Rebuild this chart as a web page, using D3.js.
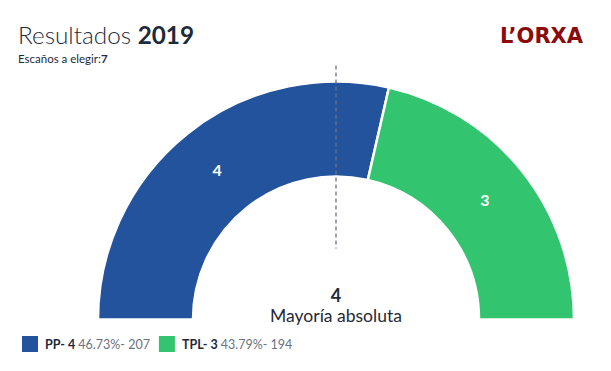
<!DOCTYPE html>
<html><head><meta charset="utf-8">
<script src="https://cdn.jsdelivr.net/npm/d3@7"></script>
<style>body{margin:0;background:#fff;font-family:Lato,sans-serif}</style>
</head><body>
<svg id="c" width="611" height="371"></svg>
<script>
const parties = ["PP", "TPL"];
const seats = [4, 3];
const percents = ["46.73%", "43.79%"];
const votes = [207, 194];
const colors = ["#23539d", "#33c46f"];
const totalSeats = 7;
const majority = 4;
const year = "2019";

const svg = d3.select("#c");
const cx = 336, cy = 319.5, rOuter = 238, rInner = 143;

const pie = d3.pie().sort(null).value(d => d).startAngle(-Math.PI/2).endAngle(Math.PI/2);
const arcs = pie(seats);
const arc = d3.arc().innerRadius(rInner).outerRadius(rOuter);
const g = svg.append("g").attr("transform", `translate(${cx},${cy})`);
g.selectAll("path").data(arcs).join("path")
  .attr("d", arc).attr("fill", (d,i) => colors[i])
  .attr("stroke", "#fff").attr("stroke-width", 2.5);
g.selectAll("text.lbl").data(arcs).join("text")
  .attr("class","lbl")
  .attr("transform", d => `translate(${arc.centroid(d)})`)
  .attr("text-anchor","middle").attr("dy","0.35em")
  .attr("fill","#fff").attr("font-weight","bold").attr("font-size",16)
  .text(d => d.data);

// dashed majority line
g.append("line").attr("x1",0).attr("x2",0).attr("y1",-254).attr("y2",-71)
  .attr("stroke","#6b7280").attr("stroke-width",1.3).attr("stroke-dasharray","4,3");

// center text
g.append("text").attr("text-anchor","middle").attr("y",-18)
  .attr("font-weight","bold").attr("font-size",18).attr("fill","#1f2937").text(majority);
g.append("text").attr("text-anchor","middle").attr("y",2)
  .attr("font-size",17.5).attr("fill","#1f2937").text("Mayoría absoluta");

// title
const t = svg.append("text").attr("x",18).attr("y",44).attr("font-size",24.3).attr("fill","#1e2a3a");
t.append("tspan").attr("font-weight",300).text("Resultados ");
t.append("tspan").attr("font-weight","bold").text(year);
const s = svg.append("text").attr("x",18).attr("y",63).attr("font-size",11.5).attr("fill","#1e2a3a");
s.append("tspan").text("Escaños a elegir:");
s.append("tspan").attr("font-weight","bold").text(totalSeats);

// logo
svg.append("text").attr("x",583).attr("y",43).attr("text-anchor","end")
  .attr("font-family","'DejaVu Sans',sans-serif").attr("font-weight","bold").attr("font-size",21)
  .attr("fill","#8b0a0a").text("L’ORXA");

// legend
let lx = 22;
parties.forEach((p,i) => {
  svg.append("rect").attr("x",lx).attr("y",336).attr("width",16).attr("height",16).attr("fill",colors[i]);
  const tx = svg.append("text").attr("x",lx+23).attr("y",349).attr("font-size",12.5);
  tx.append("tspan").attr("font-weight","bold").attr("fill","#1e2a3a").text(`${p}- ${seats[i]} `);
  tx.append("tspan").attr("fill","#6b7280").text(`${percents[i]}- ${votes[i]}`);
  const w = tx.node().getComputedTextLength();
  lx += 23 + w + 9;
});
</script>
</body></html>
